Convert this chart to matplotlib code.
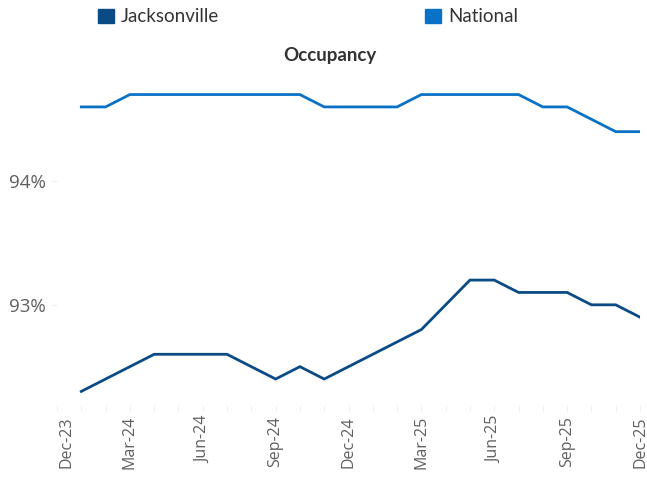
import matplotlib
matplotlib.use("Agg")
import matplotlib.pyplot as plt
import matplotlib.transforms as mtransforms
from matplotlib.patches import Patch
from matplotlib.ticker import FuncFormatter, MultipleLocator

plt.rcParams["font.family"] = ["Open Sans", "DejaVu Sans"]

# monthly occupancy, Jan-24 .. Dec-25
months = list(range(1, 25))
jacksonville = [92.3, 92.4, 92.5, 92.6, 92.6, 92.6, 92.6, 92.5, 92.4, 92.5, 92.4, 92.5,
                92.6, 92.7, 92.8, 93.0, 93.2, 93.2, 93.1, 93.1, 93.1, 93.0, 93.0, 92.9]
national = [94.6, 94.6, 94.7, 94.7, 94.7, 94.7, 94.7, 94.7, 94.7, 94.7, 94.6, 94.6,
            94.6, 94.6, 94.7, 94.7, 94.7, 94.7, 94.7, 94.6, 94.6, 94.5, 94.4, 94.4]
tick_pos = [0, 3, 6, 9, 12, 15, 18, 21, 24]
tick_labels = ["Dec-23", "Mar-24", "Jun-24", "Sep-24", "Dec-24",
               "Mar-25", "Jun-25", "Sep-25", "Dec-25"]

c_jax = "#0B4B85"
c_nat = "#0A72C6"
grey = "#5F5F5F"

fig = plt.figure(figsize=(6.47, 4.8), dpi=100)
ax = fig.add_axes([57 / 647, 1 - 405 / 480, (640 - 57) / 647, (405 - 76) / 480])

ax.plot(months, jacksonville, color=c_jax, lw=2.0, solid_joinstyle="miter")
ax.plot(months, national, color=c_nat, lw=2.0, solid_joinstyle="miter")

ax.set_xlim(0, 24)
ax.set_ylim(92.19, 94.85)
ax.set_xticks(tick_pos)
ax.set_xticklabels(tick_labels, rotation=90, fontsize=11.5, color=grey)
ax.xaxis.set_minor_locator(MultipleLocator(1))
ax.set_yticks([93, 94])
ax.yaxis.set_major_formatter(FuncFormatter(lambda v, p: f"{v:.0f}%"))
ax.tick_params(axis="y", labelsize=13.5, labelcolor=grey)
ax.tick_params(axis="both", which="both", color="#F0F0F0", length=4, width=0.8, pad=4)
for s in ax.spines.values():
    s.set_visible(False)

# first label sits a little right of its tick, as in the original
first = ax.get_xticklabels()[0]
first.set_transform(first.get_transform() + mtransforms.ScaledTranslation(10 / 100, 0, fig.dpi_scale_trans))

fig.text(330 / 647, 1 - 56 / 480, "Occupancy", ha="center", va="center",
         fontsize=13.5, fontweight="bold", color="#333333", family="Lato")

handles = [Patch(color=c_jax, label="Jacksonville"), Patch(color=c_nat, label="National")]
fig.legend(handles=handles, ncol=2, loc="center left", bbox_to_anchor=(89 / 647, 1 - 17 / 480),
           frameon=False, handlelength=0.85, handleheight=0.85, handletextpad=0.35,
           columnspacing=11.0, prop={"family": "Lato", "size": 13.5}, labelcolor="#333333",
           borderpad=0)

fig.savefig("out.png", dpi=100)
